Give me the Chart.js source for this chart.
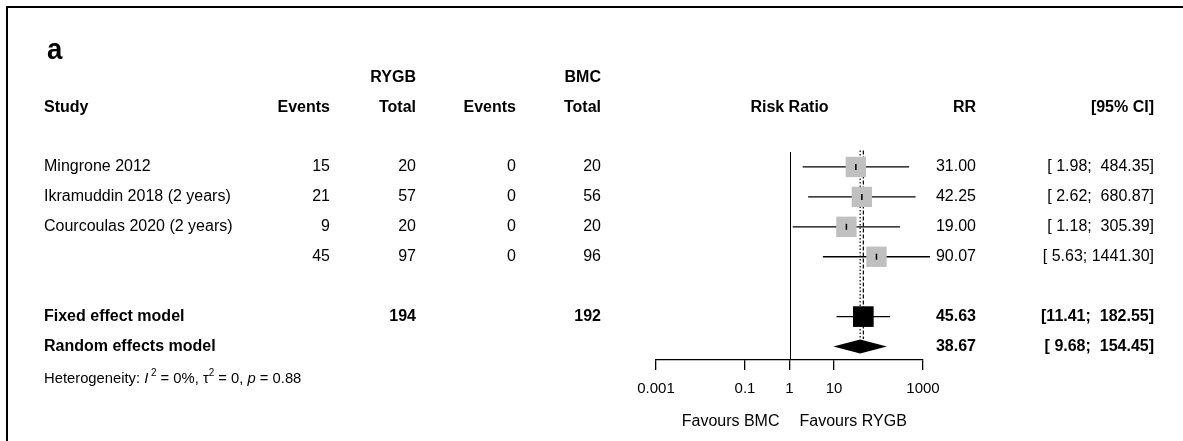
<!DOCTYPE html>
<html>
<head>
<meta charset="utf-8">
<script src="https://cdn.jsdelivr.net/npm/chart.js@4.4.1/dist/chart.umd.min.js"></script>
<style>
  html, body { margin: 0; padding: 0; background: #fff; }
  canvas { display: block; }
</style>
</head>
<body>
<canvas id="forest" width="1183" height="441"></canvas>
<script>
// Individual trials
const studies     = ['Mingrone 2012', 'Ikramuddin 2018 (2 years)', 'Courcoulas 2020 (2 years)', ''];
const rygbEvents  = [15, 21, 9, 45];
const rygbTotal   = [20, 57, 20, 97];
const bmcEvents   = [0, 0, 0, 0];
const bmcTotal    = [20, 56, 20, 96];
const riskRatio   = [31.00, 42.25, 19.00, 90.07];
const ciLower     = [1.98, 2.62, 1.18, 5.63];
const ciUpper     = [484.35, 680.87, 305.39, 1441.30];

// Pooled estimates: fixed effect, random effects
const pooledModels = ['Fixed effect model', 'Random effects model'];
const pooledRR     = [45.63, 38.67];
const pooledLower  = [11.41, 9.68];
const pooledUpper  = [182.55, 154.45];
const pooledTotals = [194, 192];   // RYGB, BMC

// Axis
const axisTicks = [0.001, 0.1, 1, 10, 1000];
const axisLabels = ['0.001', '0.1', '1', '10', '1000'];
const favourLabels = ['Favours BMC', 'Favours RYGB'];

// Heterogeneity statistics
const hetI2 = '0%';
const hetTau2 = '0';
const hetP = '0.88';

// Row positions on the y scale
const studyRows = studies.map((_, i) => i + 1);
const pooledRows = [6, 7];
const headerRows = [-2, -1];
const hetRow = 8.07;

const FONT = '"Liberation Sans", Arial, sans-serif';
const BODY = 16;

function fmtCI(lo, hi) {
  return '[' + lo.toFixed(2).padStart(5, ' ') + '; ' + hi.toFixed(2).padStart(7, ' ') + ']';
}

function fontOf(size, weight, style) {
  return (style || '') + ' ' + (weight || 'normal') + ' ' + size + 'px ' + FONT;
}

function text(ctx, str, x, y, align, size, weight, style, sx) {
  ctx.save();
  ctx.font = fontOf(size, weight, style);
  ctx.fillStyle = '#000';
  ctx.textBaseline = 'middle';
  ctx.textAlign = align;
  ctx.translate(x, y);
  ctx.scale(sx || 1, 1);
  ctx.fillText(str, 0, 0);
  ctx.restore();
}

function textWidth(ctx, str, size, weight, style) {
  ctx.save();
  ctx.font = fontOf(size, weight, style);
  const w = ctx.measureText(str).width;
  ctx.restore();
  return w;
}

const forestPlugin = {
  id: 'forestPlugin',
  beforeDraw(chart) {
    const ctx = chart.ctx;
    ctx.save();
    ctx.fillStyle = '#fff';
    ctx.fillRect(0, 0, chart.width, chart.height);
    // frame
    ctx.strokeStyle = '#000';
    ctx.lineWidth = 2;
    ctx.beginPath();
    ctx.moveTo(7, chart.height);
    ctx.lineTo(7, 7);
    ctx.lineTo(chart.width, 7);
    ctx.stroke();
    ctx.restore();
  },
  beforeDatasetsDraw(chart) {
    const ctx = chart.ctx;
    const xs = chart.scales.x, ys = chart.scales.y;
    const top = ys.getPixelForValue(0.45);
    ctx.save();
    ctx.strokeStyle = '#000';
    // line of no effect
    ctx.lineWidth = 1;
    const x1 = Math.round(xs.getPixelForValue(1)) + 0.5;
    ctx.beginPath();
    ctx.moveTo(x1, ys.getPixelForValue(0.5));
    ctx.lineTo(x1, chart.chartArea.bottom);
    ctx.stroke();
    // pooled estimate reference lines
    const refBottom = ys.getPixelForValue(6.75);
    ctx.lineWidth = 1.2;
    ctx.setLineDash([4, 2]);
    const xf = xs.getPixelForValue(pooledRR[0]);
    ctx.beginPath(); ctx.moveTo(xf, top); ctx.lineTo(xf, refBottom); ctx.stroke();
    ctx.setLineDash([1.5, 2]);
    const xr = xs.getPixelForValue(pooledRR[1]);
    ctx.beginPath(); ctx.moveTo(xr, top); ctx.lineTo(xr, refBottom); ctx.stroke();
    ctx.setLineDash([]);
    // confidence intervals
    ctx.lineWidth = 1.3;
    studyRows.forEach((row, i) => {
      const y = ys.getPixelForValue(row);
      ctx.beginPath();
      ctx.moveTo(xs.getPixelForValue(ciLower[i]), y);
      ctx.lineTo(xs.getPixelForValue(ciUpper[i]), y);
      ctx.stroke();
    });
    const yf = ys.getPixelForValue(pooledRows[0]);
    ctx.beginPath();
    ctx.moveTo(xs.getPixelForValue(pooledLower[0]), yf);
    ctx.lineTo(xs.getPixelForValue(pooledUpper[0]), yf);
    ctx.stroke();
    ctx.restore();
  },
  afterDatasetsDraw(chart) {
    const ctx = chart.ctx;
    const xs = chart.scales.x, ys = chart.scales.y;
    ctx.save();
    // point estimate marks inside the boxes
    ctx.strokeStyle = '#000';
    ctx.lineWidth = 1.5;
    studyRows.forEach((row, i) => {
      const y = ys.getPixelForValue(row);
      const x = xs.getPixelForValue(riskRatio[i]);
      ctx.beginPath(); ctx.moveTo(x, y - 3); ctx.lineTo(x, y + 3); ctx.stroke();
    });
    // random effects diamond
    const yr = ys.getPixelForValue(pooledRows[1]);
    ctx.fillStyle = '#000';
    ctx.beginPath();
    ctx.moveTo(xs.getPixelForValue(pooledLower[1]), yr);
    ctx.lineTo(xs.getPixelForValue(pooledRR[1]), yr - 7);
    ctx.lineTo(xs.getPixelForValue(pooledUpper[1]), yr);
    ctx.lineTo(xs.getPixelForValue(pooledRR[1]), yr + 7);
    ctx.closePath();
    ctx.fill();
    ctx.restore();

    // panel letter
    text(ctx, 'a', 47, 51, 'left', 30, 'bold', '', 0.92);

    // column headers
    const yh1 = ys.getPixelForValue(headerRows[0]);
    const yh2 = ys.getPixelForValue(headerRows[1]);
    text(ctx, 'RYGB', 416, yh1, 'right', BODY, 'bold');
    text(ctx, 'BMC', 601, yh1, 'right', BODY, 'bold');
    text(ctx, 'Study', 44, yh2, 'left', BODY, 'bold');
    text(ctx, 'Events', 330, yh2, 'right', BODY, 'bold');
    text(ctx, 'Total', 416, yh2, 'right', BODY, 'bold');
    text(ctx, 'Events', 516, yh2, 'right', BODY, 'bold');
    text(ctx, 'Total', 601, yh2, 'right', BODY, 'bold');
    text(ctx, 'Risk Ratio', (chart.chartArea.left + chart.chartArea.right) / 2, yh2, 'center', BODY, 'bold');
    text(ctx, 'RR', 976, yh2, 'right', BODY, 'bold');
    text(ctx, '[95% CI]', 1154, yh2, 'right', BODY, 'bold');

    // study rows
    studyRows.forEach((row, i) => {
      const y = ys.getPixelForValue(row);
      text(ctx, studies[i], 44, y, 'left', BODY);
      text(ctx, String(rygbEvents[i]), 330, y, 'right', BODY);
      text(ctx, String(rygbTotal[i]), 416, y, 'right', BODY);
      text(ctx, String(bmcEvents[i]), 516, y, 'right', BODY);
      text(ctx, String(bmcTotal[i]), 601, y, 'right', BODY);
      text(ctx, riskRatio[i].toFixed(2), 976, y, 'right', BODY);
      text(ctx, fmtCI(ciLower[i], ciUpper[i]), 1154, y, 'right', BODY);
    });

    // pooled rows
    pooledRows.forEach((row, i) => {
      const y = ys.getPixelForValue(row);
      text(ctx, pooledModels[i], 44, y, 'left', BODY, 'bold');
      if (i === 0) {
        text(ctx, String(pooledTotals[0]), 416, y, 'right', BODY, 'bold');
        text(ctx, String(pooledTotals[1]), 601, y, 'right', BODY, 'bold');
      }
      text(ctx, pooledRR[i].toFixed(2), 976, y, 'right', BODY, 'bold');
      text(ctx, fmtCI(pooledLower[i], pooledUpper[i]), 1154, y, 'right', BODY, 'bold');
    });

    // heterogeneity line
    const yh = ys.getPixelForValue(hetRow);
    const hs = 15, sup = 10;
    let x = 44;
    const parts = [
      ['Heterogeneity: ', hs, '', 0],
      ['I', hs, 'italic', 0],
      [' 2', sup, '', -5],
      [' = ' + hetI2 + ', ', hs, '', 0],
      ['\u03c4', hs, '', 0],
      ['2', sup, '', -5],
      [' = ' + hetTau2 + ', ', hs, '', 0],
      ['p', hs, 'italic', 0],
      [' = ' + hetP, hs, '', 0]
    ];
    parts.forEach(([s, size, style, dy]) => {
      text(ctx, s, x, yh + dy, 'left', size, 'normal', style, 0.985);
      x += textWidth(ctx, s, size, 'normal', style) * 0.985;
    });

    // favours labels beneath the axis
    const x0 = xs.getPixelForValue(1);
    const yl = chart.chartArea.bottom + 62;
    text(ctx, favourLabels[0], x0 - 10, yl, 'right', BODY);
    text(ctx, favourLabels[1], x0 + 10, yl, 'left', BODY);
  }
};

new Chart(document.getElementById('forest'), {
  type: 'scatter',
  data: {
    datasets: [
      {
        label: 'Studies',
        data: riskRatio.map((v, i) => ({ x: v, y: studyRows[i] })),
        pointStyle: 'rect',
        pointRadius: 14.4,
        pointHoverRadius: 14.4,
        backgroundColor: '#c0c0c0',
        borderWidth: 0
      },
      {
        label: pooledModels[0],
        data: [{ x: pooledRR[0], y: pooledRows[0] }],
        pointStyle: 'rect',
        pointRadius: 14.6,
        pointHoverRadius: 14.6,
        backgroundColor: '#000',
        borderWidth: 0
      }
    ]
  },
  options: {
    responsive: false,
    animation: false,
    devicePixelRatio: 1,
    events: [],
    layout: { padding: { left: 656, right: 260, top: 152, bottom: 31 } },
    plugins: { legend: { display: false }, tooltip: { enabled: false } },
    scales: {
      x: {
        type: 'logarithmic',
        min: 0.001,
        max: 1000,
        afterBuildTicks: (s) => { s.ticks = axisTicks.map(v => ({ value: v })); },
        afterFit: (s) => { s.height = 50; },
        grid: { drawOnChartArea: false, drawTicks: true, tickLength: 10, color: '#000', lineWidth: 1.3 },
        border: { display: true, color: '#000', width: 1.3 },
        ticks: {
          autoSkip: false,
          maxRotation: 0,
          padding: 10,
          color: '#000',
          font: { family: FONT, size: 15 },
          callback: (v) => axisLabels[axisTicks.indexOf(v)] ?? ''
        }
      },
      y: {
        type: 'linear',
        reverse: true,
        min: 0.5,
        max: 7.45,
        display: false
      }
    }
  },
  plugins: [forestPlugin]
});
</script>
</body>
</html>
